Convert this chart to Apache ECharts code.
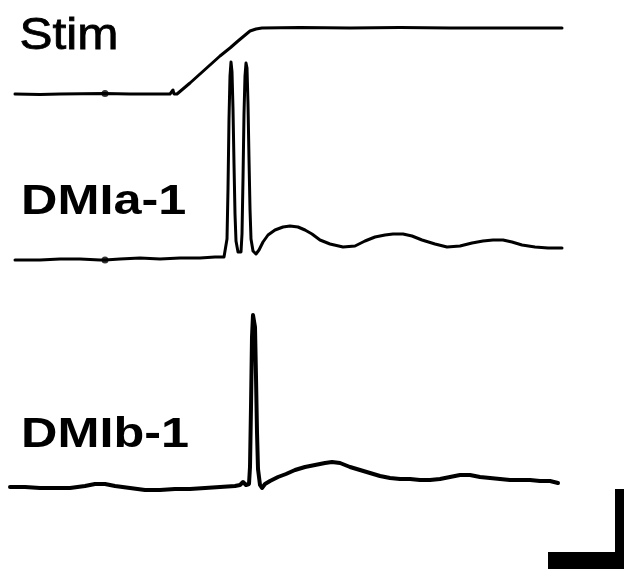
<!DOCTYPE html>
<html>
<head>
<meta charset="utf-8">
<script src="https://cdn.jsdelivr.net/npm/echarts@6/dist/echarts.min.js"></script>
<style>
  html, body { margin: 0; padding: 0; background: #fff; }
  #main { width: 624px; height: 569px; }
</style>
</head>
<body>
<div id="main"></div>
<script>
// time (sample) and amplitude, amplitude relative to each trace's baseline
var stimT = [15, 40, 60, 104, 106, 130, 150, 170, 172, 173, 174, 177, 190, 200, 210, 220, 230, 238, 244, 250, 256, 262, 300, 350, 400, 450, 500, 562]
var stimV = [0, -0.5, 0, 0.5, 0.5, 0, 0, 0, 0, 4, 0, 0, 11, 20, 29, 38, 46, 53, 58, 63, 65, 66, 66.5, 66, 66.5, 66, 66, 66]

var dmiaT = [15, 40, 60, 80, 100, 105, 120, 140, 160, 180, 200, 215, 224, 227, 228, 229, 230, 231, 232, 233, 234, 235, 236, 238, 240, 241, 242, 243, 244, 245, 246, 247, 248, 249, 250, 251, 253, 256, 259, 263, 268, 275, 283, 290, 298, 305, 312, 320, 330, 343, 355, 365, 375, 385, 393, 403, 412, 422, 435, 447, 460, 472, 483, 493, 503, 512, 522, 535, 548, 562]
var dmiaV = [-1, -1, 0, 0, -1, -1, 0, 1, 0, 1, 1, 2, 2, 20, 70, 140, 183, 197, 187, 150, 95, 45, 18, 7, 5, 7, 25, 80, 145, 183, 196, 191, 155, 100, 50, 20, 8, 5, 9, 17, 24, 29, 32, 33, 32, 29, 25, 19, 15, 12, 13, 18, 22, 24, 25, 25, 23, 19, 15, 12, 13, 16, 18, 19, 19, 17, 14, 12, 11, 11]

var dmibT = [10, 25, 40, 55, 70, 85, 95, 105, 115, 130, 145, 160, 175, 190, 205, 220, 235, 240, 243, 246, 249, 250, 251, 252, 253, 254, 255, 256, 257, 258, 260, 262, 265, 270, 278, 286, 295, 305, 315, 325, 332, 340, 350, 360, 370, 380, 390, 400, 410, 420, 430, 440, 450, 460, 470, 480, 490, 500, 510, 520, 530, 540, 550, 558]
var dmibV = [0, 0, -1, -1, -1, 1, 3, 3, 1, -1, -3, -3, -2, -2, -1, 0, 1, 2, 5, 2, 3, 20, 80, 150, 172, 174, 160, 110, 55, 18, 2, -1, 3, 6, 10, 13, 17, 20, 22, 24, 25, 24, 20, 17, 14, 11, 9, 8, 8, 7, 7, 8, 10, 12, 12, 10, 9, 8, 7, 7, 7, 6, 6, 4]

// baselines of the three traces on the shared amplitude axis
var baselines = [475, 310, 82]
var labels = ['Stim', 'DMIa-1', 'DMIb-1']

// calibration bar
var scaleBarT = [548, 624]
var scaleBarV = [0, 80]

function build (t, v, base) {
  return t.map(function (x, i) { return [x, v[i] + base] })
}

var myChart = echarts.init(document.getElementById('main'))

var traceStyle = { color: '#000', width: 3, cap: 'round', join: 'round' }

var option = {
  animation: false,
  backgroundColor: '#fff',
  grid: { left: 0, right: 0, top: 0, bottom: 0 },
  xAxis: { type: 'value', min: 0, max: 624, show: false },
  yAxis: { type: 'value', min: 0, max: 569, show: false },
  graphic: [
    { type: 'text', left: 19, top: 14, scaleX: 1.1, style: { text: labels[0], font: '45px "Liberation Sans"', fill: '#000', stroke: '#000', lineWidth: 0.8 } },
    { type: 'text', left: 21, top: 181, scaleX: 1.2, style: { text: labels[1], font: 'bold 42px "Liberation Sans"', fill: '#000' } },
    { type: 'text', left: 21, top: 414, scaleX: 1.2, style: { text: labels[2], font: 'bold 42px "Liberation Sans"', fill: '#000' } }
  ],
  series: [
    {
      name: labels[0], type: 'line', showSymbol: false, clip: false,
      lineStyle: traceStyle,
      data: build(stimT, stimV, baselines[0])
    },
    {
      name: labels[1], type: 'line', showSymbol: false, clip: false,
      lineStyle: traceStyle,
      data: build(dmiaT, dmiaV, baselines[1])
    },
    {
      name: labels[2], type: 'line', showSymbol: false, clip: false,
      lineStyle: { color: '#000', width: 4, cap: 'round', join: 'round' },
      data: build(dmibT, dmibV, baselines[2])
    },
    {
      name: 'time bar', type: 'line', showSymbol: false, clip: false,
      lineStyle: { color: '#000', width: 17, cap: 'butt' },
      data: [[scaleBarT[0], 8.5], [scaleBarT[1], 8.5]]
    },
    {
      name: 'amp bar', type: 'line', showSymbol: false, clip: false,
      lineStyle: { color: '#000', width: 9, cap: 'butt' },
      data: [[scaleBarT[1] - 4.5, scaleBarV[0]], [scaleBarT[1] - 4.5, scaleBarV[1]]]
    },
    {
      name: 'markers', type: 'scatter', symbolSize: 7, silent: true,
      itemStyle: { color: '#000' },
      data: [[105, baselines[0] + 0.5], [105, baselines[1] - 1]]
    }
  ]
}

myChart.setOption(option)
</script>
</body>
</html>
